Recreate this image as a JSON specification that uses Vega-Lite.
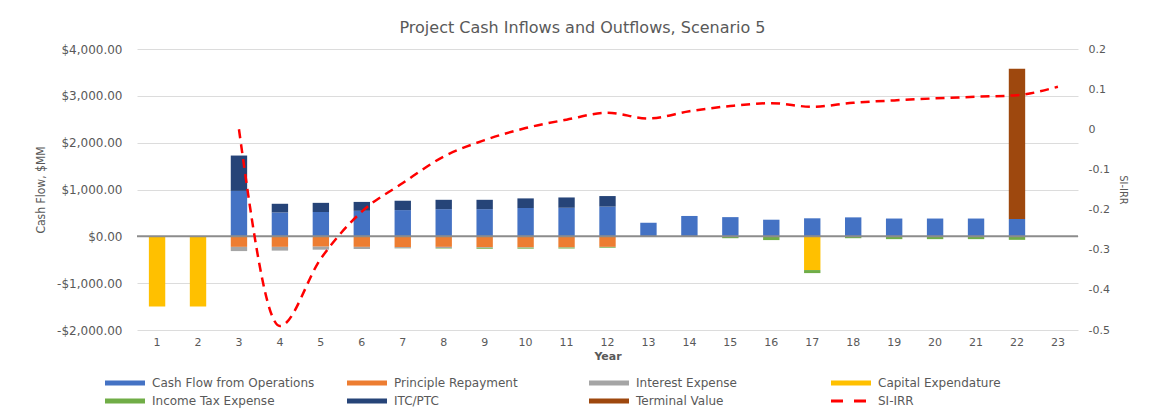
{
  "$schema": "https://vega.github.io/schema/vega-lite/v6.json",
  "autosize": {"type": "none"},
  "width": 941,
  "height": 281,
  "padding": {"left": 137, "top": 49, "right": 74, "bottom": 83},
  "background": "white",
  "config": {
    "font": "DejaVu Sans",
    "view": {"stroke": null},
    "axis": {"labelColor": "#595959", "titleColor": "#595959", "labelFont": "DejaVu Sans", "titleFont": "DejaVu Sans"},
    "legend": {"labelFont": "DejaVu Sans", "labelColor": "#595959"}
  },
  "title": {
    "text": "Project Cash Inflows and Outflows, Scenario 5",
    "fontSize": 16,
    "fontWeight": "normal",
    "color": "#595959",
    "anchor": "middle",
    "dx": -25,
    "offset": 7
  },
  "datasets": {
    "flows": [
      {"year": 1, "series": "Capital Expendature", "value": -1500},
      {"year": 2, "series": "Capital Expendature", "value": -1500},
      {"year": 17, "series": "Capital Expendature", "value": -720},
      {"year": 3, "series": "Cash Flow from Operations", "value": 970},
      {"year": 4, "series": "Cash Flow from Operations", "value": 510},
      {"year": 5, "series": "Cash Flow from Operations", "value": 520},
      {"year": 6, "series": "Cash Flow from Operations", "value": 545},
      {"year": 7, "series": "Cash Flow from Operations", "value": 560},
      {"year": 8, "series": "Cash Flow from Operations", "value": 580},
      {"year": 9, "series": "Cash Flow from Operations", "value": 580},
      {"year": 10, "series": "Cash Flow from Operations", "value": 605},
      {"year": 11, "series": "Cash Flow from Operations", "value": 610},
      {"year": 12, "series": "Cash Flow from Operations", "value": 635},
      {"year": 13, "series": "Cash Flow from Operations", "value": 290},
      {"year": 14, "series": "Cash Flow from Operations", "value": 435},
      {"year": 15, "series": "Cash Flow from Operations", "value": 410},
      {"year": 16, "series": "Cash Flow from Operations", "value": 355},
      {"year": 17, "series": "Cash Flow from Operations", "value": 385},
      {"year": 18, "series": "Cash Flow from Operations", "value": 405},
      {"year": 19, "series": "Cash Flow from Operations", "value": 380},
      {"year": 20, "series": "Cash Flow from Operations", "value": 380},
      {"year": 21, "series": "Cash Flow from Operations", "value": 380},
      {"year": 22, "series": "Cash Flow from Operations", "value": 370},
      {"year": 3, "series": "ITC/PTC", "value": 755},
      {"year": 4, "series": "ITC/PTC", "value": 185},
      {"year": 5, "series": "ITC/PTC", "value": 195},
      {"year": 6, "series": "ITC/PTC", "value": 190},
      {"year": 7, "series": "ITC/PTC", "value": 200},
      {"year": 8, "series": "ITC/PTC", "value": 200},
      {"year": 9, "series": "ITC/PTC", "value": 200},
      {"year": 10, "series": "ITC/PTC", "value": 205},
      {"year": 11, "series": "ITC/PTC", "value": 220},
      {"year": 12, "series": "ITC/PTC", "value": 225},
      {"year": 3, "series": "Principle Repayment", "value": -225},
      {"year": 4, "series": "Principle Repayment", "value": -225},
      {"year": 5, "series": "Principle Repayment", "value": -220},
      {"year": 6, "series": "Principle Repayment", "value": -225},
      {"year": 7, "series": "Principle Repayment", "value": -230},
      {"year": 8, "series": "Principle Repayment", "value": -225},
      {"year": 9, "series": "Principle Repayment", "value": -230},
      {"year": 10, "series": "Principle Repayment", "value": -235},
      {"year": 11, "series": "Principle Repayment", "value": -235},
      {"year": 12, "series": "Principle Repayment", "value": -225},
      {"year": 3, "series": "Interest Expense", "value": -90},
      {"year": 4, "series": "Interest Expense", "value": -80},
      {"year": 5, "series": "Interest Expense", "value": -65},
      {"year": 6, "series": "Interest Expense", "value": -45},
      {"year": 7, "series": "Interest Expense", "value": -25},
      {"year": 8, "series": "Interest Expense", "value": -25},
      {"year": 9, "series": "Interest Expense", "value": -15},
      {"year": 10, "series": "Interest Expense", "value": -8},
      {"year": 11, "series": "Interest Expense", "value": -5},
      {"year": 12, "series": "Interest Expense", "value": -3},
      {"year": 7, "series": "Income Tax Expense", "value": -3},
      {"year": 8, "series": "Income Tax Expense", "value": -10},
      {"year": 9, "series": "Income Tax Expense", "value": -20},
      {"year": 10, "series": "Income Tax Expense", "value": -20},
      {"year": 11, "series": "Income Tax Expense", "value": -20},
      {"year": 12, "series": "Income Tax Expense", "value": -15},
      {"year": 13, "series": "Income Tax Expense", "value": -10},
      {"year": 14, "series": "Income Tax Expense", "value": -10},
      {"year": 15, "series": "Income Tax Expense", "value": -40},
      {"year": 16, "series": "Income Tax Expense", "value": -80},
      {"year": 17, "series": "Income Tax Expense", "value": -65},
      {"year": 18, "series": "Income Tax Expense", "value": -40},
      {"year": 19, "series": "Income Tax Expense", "value": -60},
      {"year": 20, "series": "Income Tax Expense", "value": -60},
      {"year": 21, "series": "Income Tax Expense", "value": -60},
      {"year": 22, "series": "Income Tax Expense", "value": -75},
      {"year": 22, "series": "Terminal Value", "value": 3210}
    ],
    "irr": [
      {"year": 3, "irr": 0.0},
      {"year": 4, "irr": -0.49},
      {"year": 5, "irr": -0.322},
      {"year": 6, "irr": -0.205},
      {"year": 7, "irr": -0.134},
      {"year": 8, "irr": -0.068},
      {"year": 9, "irr": -0.027},
      {"year": 10, "irr": 0.003},
      {"year": 11, "irr": 0.024},
      {"year": 12, "irr": 0.041},
      {"year": 13, "irr": 0.027},
      {"year": 14, "irr": 0.045},
      {"year": 15, "irr": 0.058},
      {"year": 16, "irr": 0.065},
      {"year": 17, "irr": 0.056},
      {"year": 18, "irr": 0.066},
      {"year": 19, "irr": 0.072},
      {"year": 20, "irr": 0.077},
      {"year": 21, "irr": 0.081},
      {"year": 22, "irr": 0.085},
      {"year": 23, "irr": 0.106}
    ]
  },
  "layer": [
    {
      "layer": [
        {
          "data": {"name": "flows"},
          "transform": [
            {"calculate": "indexof(['Cash Flow from Operations','Principle Repayment','Interest Expense','Capital Expendature','Income Tax Expense','ITC/PTC','Terminal Value'], datum.series)", "as": "k"}
          ],
          "mark": {"type": "bar"},
          "encoding": {
            "x": {
              "field": "year",
              "type": "ordinal",
              "scale": {"domain": [1,2,3,4,5,6,7,8,9,10,11,12,13,14,15,16,17,18,19,20,21,22,23], "paddingInner": 0.6, "paddingOuter": 0.29},
              "axis": {"title": "Year", "labelAngle": 0, "ticks": false, "domain": false, "labelFontSize": 11, "labelPadding": 6, "titleFontSize": 11, "titleFontWeight": "bold", "titlePadding": 3}
            },
            "y": {
              "field": "value",
              "type": "quantitative",
              "stack": "zero",
              "scale": {"domain": [-2000, 4000], "nice": false, "zero": false},
              "axis": {
                "orient": "left",
                "values": [-2000, -1000, 0, 1000, 2000, 3000, 4000],
                "labelExpr": "(datum.value < 0 ? '-$' : '$') + format(abs(datum.value), ',.2f')",
                "grid": true,
                "gridColor": "#DCDCDC",
                "gridWidth": 1,
                "domain": false,
                "ticks": false,
                "labelPadding": 15,
                "labelFontSize": 12,
                "title": "Cash Flow, $MM",
                "titleFont": "DejaVu Sans Condensed",
                "titleFontSize": 12,
                "titleFontWeight": "normal",
                "titlePadding": 9
              }
            },
            "color": {
              "field": "series",
              "type": "nominal",
              "scale": {
                "domain": ["Cash Flow from Operations", "Principle Repayment", "Interest Expense", "Capital Expendature", "Income Tax Expense", "ITC/PTC", "Terminal Value", "SI-IRR"],
                "range": ["#4472C4", "#ED7D31", "#A5A5A5", "#FFC000", "#70AD47", "#264478", "#9E480E", "#FF0000"]
              },
              "legend": {
                "title": null,
                "orient": "none",
                "legendX": -34,
                "legendY": 328,
                "direction": "horizontal",
                "columns": 4,
                "gridAlign": "all",
                "columnPadding": 22,
                "rowPadding": -2,
                "padding": 0,
                "symbolType": "M-1,0H9",
                "symbolSize": 64,
                "symbolStrokeWidth": 5,
                "labelFontSize": 12,
                "labelOffset": 37,
                "labelLimit": 300,
                "encode": {
                  "symbols": {
                    "update": {
                      "fill": {"value": "transparent"},
                      "stroke": {"scale": "color", "field": "value"},
                      "strokeDash": {"signal": "datum.value === 'SI-IRR' ? [12, 11] : [1, 0]"},
                      "strokeWidth": {"signal": "datum.value === 'SI-IRR' ? 3 : 5"}
                    }
                  }
                }
              }
            },
            "order": {"field": "k", "type": "quantitative"}
          }
        },
        {
          "data": {"values": [{}]},
          "mark": {"type": "rule", "color": "#8C8C8C", "strokeWidth": 2},
          "encoding": {"y": {"datum": 0}}
        }
      ]
    },
    {
      "data": {"name": "irr"},
      "mark": {"type": "line", "color": "#FF0000", "strokeWidth": 2.5, "strokeDash": [9, 6], "interpolate": "monotone"},
      "encoding": {
        "x": {
          "field": "year",
          "type": "ordinal",
          "scale": {"domain": [1,2,3,4,5,6,7,8,9,10,11,12,13,14,15,16,17,18,19,20,21,22,23], "paddingInner": 0.6, "paddingOuter": 0.29},
          "axis": {"title": "Year", "labelAngle": 0, "ticks": false, "domain": false, "labelFontSize": 11, "labelPadding": 6, "titleFontSize": 11, "titleFontWeight": "bold", "titlePadding": 3}
        },
        "y": {
          "field": "irr",
          "type": "quantitative",
          "scale": {"domain": [-0.5, 0.2], "nice": false, "zero": false},
          "axis": {
            "orient": "right",
            "values": [-0.5, -0.4, -0.3, -0.2, -0.1, 0, 0.1, 0.2],
            "labelExpr": "datum.value == 0 ? '0' : (datum.value < 0 ? '-' : '') + format(abs(datum.value), '.1f')",
            "grid": false,
            "domain": false,
            "ticks": false,
            "labelPadding": 10,
            "labelFontSize": 11,
            "title": "SI-IRR",
            "titleFont": "DejaVu Sans Condensed",
            "titleFontSize": 11,
            "titleFontWeight": "normal",
            "titlePadding": 8
          }
        }
      }
    }
  ],
  "resolve": {"scale": {"y": "independent"}}
}
